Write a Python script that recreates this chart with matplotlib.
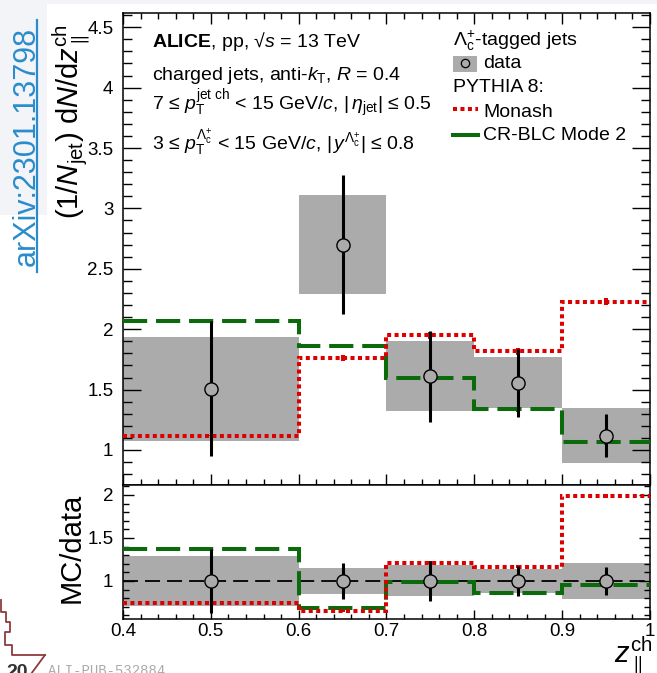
import matplotlib
matplotlib.use("Agg")
import matplotlib.pyplot as plt
import numpy as np
from matplotlib.patches import Rectangle
from matplotlib.lines import Line2D
from matplotlib.ticker import MultipleLocator, FuncFormatter

plt.rcParams['font.family'] = ['Liberation Sans', 'DejaVu Sans']
plt.rcParams['mathtext.fontset'] = 'custom'
plt.rcParams['mathtext.rm'] = 'Liberation Sans'
plt.rcParams['mathtext.it'] = 'Liberation Sans:italic'
plt.rcParams['mathtext.bf'] = 'Liberation Sans:bold'
plt.rcParams['mathtext.sf'] = 'Liberation Sans'

# z_parallel^ch binning and measured distribution
bin_edges = [0.4, 0.6, 0.7, 0.8, 0.9, 1.0]
data_vals = [1.507, 2.698, 1.609, 1.557, 1.119]
data_stat = [0.56, 0.575, 0.38, 0.28, 0.18]
data_sys = [0.43, 0.41, 0.29, 0.21, 0.23]

# PYTHIA 8 predictions
monash_vals = [1.119, 1.759, 1.950, 1.817, 2.227]
monash_err = [0.006, 0.025, 0.03, 0.03, 0.03]
crblc_vals = [2.066, 1.861, 1.598, 1.338, 1.064]
crblc_err = [0.006, 0.015, 0.02, 0.02, 0.02]

x_ticks = [0.4, 0.5, 0.6, 0.7, 0.8, 0.9, 1.0]

GREY = '#ababab'
RED = '#dd0000'
GREEN = '#0b6b0b'

W, H = 657, 673


def fx(px):
    return px / W


def fy(py):
    return 1 - py / H


fig = plt.figure(figsize=(W / 100, H / 100), dpi=100)

# slide background pieces
fig.add_artist(Rectangle((0, fy(215)), fx(47), fy(0) - fy(215),
                         transform=fig.transFigure, color='#f3f4f7', lw=0, zorder=-10))
fig.add_artist(Rectangle((0, fy(4)), 1, fy(0) - fy(4),
                         transform=fig.transFigure, color='#f3f4f7', lw=0, zorder=-10))

ax = fig.add_axes([fx(123), fy(485), fx(650) - fx(123), fy(13) - fy(485)])
axr = fig.add_axes([fx(123), fy(619), fx(650) - fx(123), fy(485) - fy(619)])

edges = np.array(bin_edges)
centers = 0.5 * (edges[:-1] + edges[1:])
widths = np.diff(edges)
d = np.array(data_vals)
st = np.array(data_stat)
sy = np.array(data_sys)
mo = np.array(monash_vals)
cr = np.array(crblc_vals)

red_ls = (0, (1.0, 0.85))
green_ls = (0, (6.0, 2.2))
lw_model = 2.9

# ---- upper panel: distribution ----
ax.bar(centers, 2 * sy, width=widths, bottom=d - sy, color=GREY, lw=0, zorder=1)
ax.stairs(cr, edges, baseline=None, color=GREEN, lw=lw_model, linestyle=green_ls, zorder=3)
ax.stairs(mo, edges, baseline=None, color=RED, lw=lw_model, linestyle=red_ls, zorder=3)
ax.errorbar(centers, mo, yerr=monash_err, fmt='none', ecolor=RED, elinewidth=2.9, zorder=3)
ax.errorbar(centers, cr, yerr=crblc_err, fmt='none', ecolor=GREEN, elinewidth=2.9, zorder=3)
ax.errorbar(centers, d, yerr=st, fmt='o', mfc=GREY, mec='black', ms=9.5, mew=1.0,
            ecolor='black', elinewidth=2.2, capsize=0, zorder=4)

ax.set_xlim(0.4, 1.0)
ax.set_ylim(0.710, 4.618)

# ---- lower panel: MC / data ----
axr.bar(centers, 2 * sy / d, width=widths, bottom=1 - sy / d, color=GREY, lw=0, zorder=1)
axr.axhline(1.0, color='black', lw=1.3, linestyle=(0, (8.3, 3.9)), zorder=2)
axr.stairs(cr / d, edges, baseline=None, color=GREEN, lw=lw_model, linestyle=green_ls, zorder=3)
axr.stairs(mo / d, edges, baseline=None, color=RED, lw=lw_model, linestyle=red_ls, zorder=3)
axr.errorbar(centers, mo / d, yerr=np.array(monash_err) / d, fmt='none', ecolor=RED,
             elinewidth=2.9, zorder=3)
axr.errorbar(centers, np.ones_like(d), yerr=st / d, fmt='o', mfc=GREY, mec='black', ms=9.5,
             mew=1.0, ecolor='black', elinewidth=2.2, capsize=0, zorder=4)
axr.set_xlim(0.4, 1.0)
axr.set_ylim(0.558, 2.116)

fmt = FuncFormatter(lambda v, p: '%g' % round(v, 3))
for a in (ax, axr):
    for sp in a.spines.values():
        sp.set_linewidth(1.1)
    a.xaxis.set_major_locator(MultipleLocator(0.1))
    a.xaxis.set_minor_locator(MultipleLocator(0.02))
    a.yaxis.set_major_locator(MultipleLocator(0.5))
    a.yaxis.set_minor_locator(MultipleLocator(0.1))
    a.yaxis.set_major_formatter(fmt)
    a.xaxis.set_major_formatter(fmt)

ax.tick_params(axis='y', which='major', direction='in', left=True, right=True,
               length=13, width=1.0, labelsize=13.5, pad=7)
ax.tick_params(axis='y', which='minor', direction='in', left=True, right=True,
               length=6.5, width=1.0)
ax.tick_params(axis='x', which='major', direction='in', top=True, bottom=True,
               length=8, width=1.0, labelbottom=False)
ax.tick_params(axis='x', which='minor', direction='in', top=True, bottom=True,
               length=4, width=1.0)

axr.tick_params(axis='y', which='major', direction='in', left=True, right=True,
                length=8, width=1.0, labelsize=13.5, pad=7)
axr.tick_params(axis='y', which='minor', direction='in', left=True, right=True,
                length=4, width=1.0)
axr.tick_params(axis='x', which='major', direction='in', top=False, bottom=True,
                length=6.5, width=1.0, labelsize=13.5, pad=3)
axr.tick_params(axis='x', which='minor', direction='in', top=False, bottom=True,
                length=3.5, width=1.0)
axr.set_xticks(x_ticks)

# axis titles
fig.text(fx(71), fy(122), r'(1/$N_{\rm jet}$) d$N$/d$z_{\parallel}^{\rm ch}$', rotation=90,
         ha='center', va='center', fontsize=21)
fig.text(fx(72), fy(548), 'MC/data', rotation=90, ha='center', va='center', fontsize=21)
fig.text(fx(652), fy(662), r'$z_{\parallel}^{\rm ch}$', ha='right', va='baseline', fontsize=21)

# annotations
fs = 14
fig.text(fx(152), fy(47), r'$\mathbf{ALICE}$, pp, √$s$ = 13 TeV', fontsize=fs, va='baseline')
fig.text(fx(152), fy(80), r'charged jets, anti-$k_{\rm T}$, $R$ = 0.4', fontsize=fs, va='baseline')
fig.text(fx(152), fy(110),
         r'7 ≤ $p_{\rm T}^{\rm jet\ ch}$ < 15 GeV/$c$, $|\,\eta_{\rm jet}|$ ≤ 0.5',
         fontsize=fs, va='baseline')
fig.text(fx(152), fy(150),
         r'3 ≤ $p_{\rm T}^{\Lambda_{\rm c}^{+}}$ < 15 GeV/$c$, $|\,y^{\Lambda_{\rm c}^{+}}|$ ≤ 0.8',
         fontsize=fs, va='baseline')

# legend
fig.text(fx(453), fy(46), r'$\Lambda_{\rm c}^{+}$-tagged jets', fontsize=fs, va='baseline')
fig.add_artist(Rectangle((fx(453), fy(72)), fx(477) - fx(453), fy(56) - fy(72),
                         transform=fig.transFigure, color=GREY, lw=0))
fig.add_artist(Line2D([fx(465)], [fy(63)], transform=fig.transFigure, marker='o', ms=6,
                      mfc=GREY, mec='black', mew=0.9, ls='none'))
fig.text(fx(483), fy(68), 'data', fontsize=fs, va='baseline')
fig.text(fx(453), fy(92), 'PYTHIA 8:', fontsize=fs, va='baseline')
fig.add_artist(Line2D([fx(453), fx(478)], [fy(109), fy(109)], transform=fig.transFigure,
                      color=RED, lw=lw_model, linestyle=red_ls))
fig.text(fx(483), fy(117), 'Monash', fontsize=fs, va='baseline')
fig.add_artist(Line2D([fx(453), fx(478)], [fy(135), fy(135)], transform=fig.transFigure,
                      color=GREEN, lw=lw_model))
fig.text(fx(483), fy(140), 'CR-BLC Mode 2', fontsize=fs, va='baseline')

# side reference link
fig.text(fx(27), fy(146), 'arXiv:2301.13798', rotation=90, ha='center', va='center',
         fontsize=22, color='#2a8ccc')
fig.add_artist(Line2D([fx(36.5), fx(36.5)], [fy(20), fy(272)], transform=fig.transFigure,
                      color='#2a8ccc', lw=1.6))

# page decoration and publication tag
px_path = [(1, 600), (1, 612), (6, 612), (6, 622), (10, 622), (10, 632), (5, 632),
           (5, 645), (12, 645), (12, 655), (45, 655)]
fig.add_artist(Line2D([fx(p[0]) for p in px_path], [fy(p[1]) for p in px_path],
                      transform=fig.transFigure, color='#8c3b3b', lw=1.3))
fig.add_artist(Line2D([fx(31), fx(45)], [fy(674), fy(655)], transform=fig.transFigure,
                      color='#8c3b3b', lw=1.3))
fig.text(fx(6), fy(677), '20', fontsize=14, fontweight='bold', color='#333333', va='baseline')
fig.text(fx(48), fy(675), 'ALI-PUB-532884', fontsize=10, color='#aaaaaa', va='baseline',
         family=['Liberation Mono', 'DejaVu Sans Mono'])

fig.savefig('out.png', dpi=100)
